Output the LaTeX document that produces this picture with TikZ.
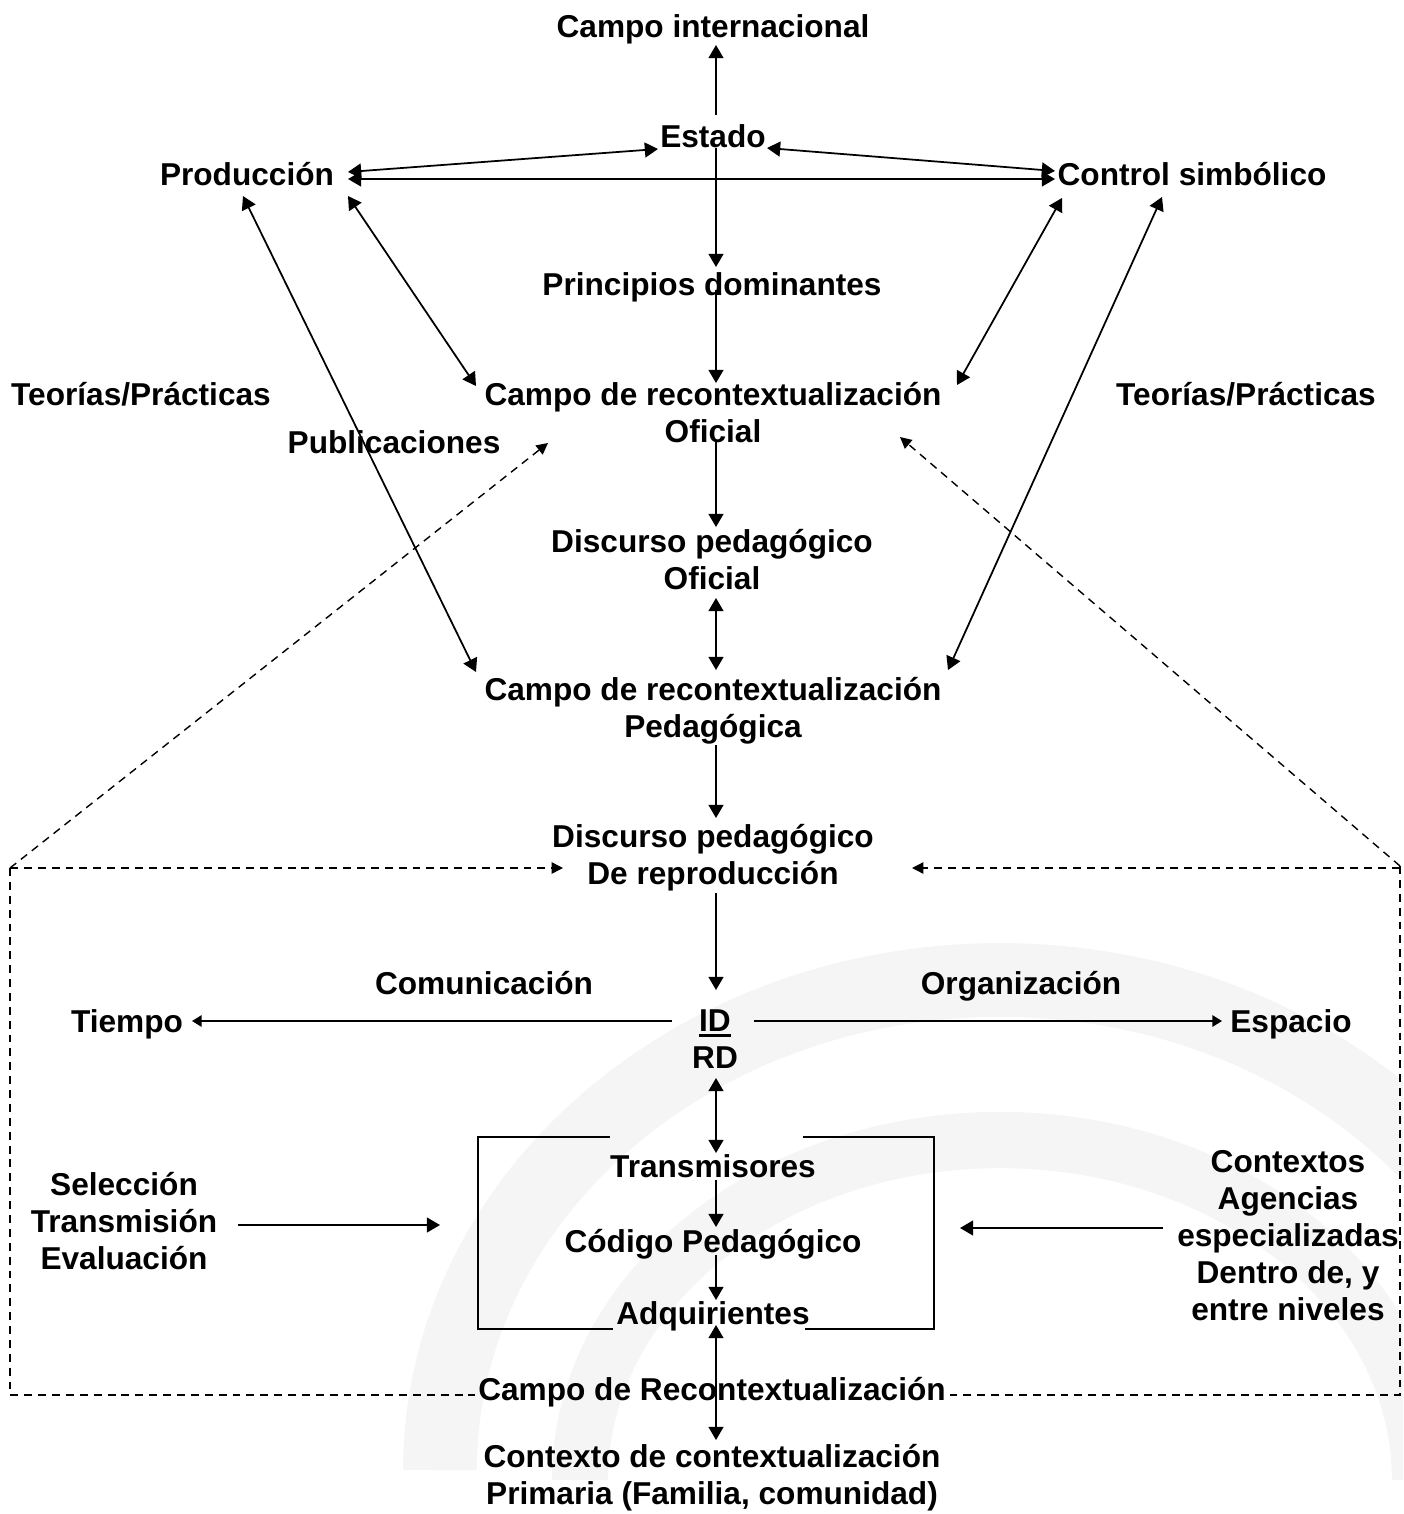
\documentclass[tikz,border=0pt]{standalone}
\usepackage{fontspec}
\setmainfont{Liberation Sans}
\usetikzlibrary{arrows.meta,calc}

\begin{document}
\begin{tikzpicture}[x=0.02cm,y=-0.02cm,
  lbl/.style={font=\bfseries\fontsize{18}{21}\selectfont, align=center, inner sep=0pt, anchor=base},
  arr/.style={line width=1pt, -{Triangle[length=7.5pt,width=8.5pt]}},
  darr/.style={line width=1pt, {Triangle[length=7.5pt,width=8.5pt]}-{Triangle[length=7.5pt,width=8.5pt]}},
  harr/.style={line width=1pt, -{Triangle[length=5.5pt,width=6.5pt]}},
  dsh/.style={line width=0.8pt, dash pattern=on 4.5pt off 3.4pt},
  dsharr/.style={dsh, -{Triangle[length=6.5pt,width=6.5pt]}},
  boxline/.style={line width=0.9pt},
  logo/.style={black!4, line width=42pt}]
\useasboundingbox (0,0) rectangle (1403,1514);

% faint logo in the background
\begin{scope}
  \clip (0,0) rectangle (1403,1514);
  \draw[logo] (1000,1470) ++(180:560 and 490) arc[start angle=180, end angle=360, x radius=560, y radius=490];
  \draw[logo, line width=32pt] (1000,1480) ++(180:420 and 340) arc[start angle=180, end angle=360, x radius=420, y radius=340];
\end{scope}

% labels (anchored on the baseline of their last line)
\node[lbl] (intl) at (713,38) {Campo internacional};
\node[lbl] (estado) at (713,148) {Estado};
\node[lbl] (prod) at (247,185) {Producción};
\node[lbl] (ctrl) at (1192,185) {Control simbólico};
\node[lbl] (prin) at (712,295) {Principios dominantes};
\node[lbl] (campoOf) at (713,442) {Campo de recontextualización\\Oficial};
\node[lbl] (teoL) at (141,405) {Teorías/Prácticas};
\node[lbl] (teoR) at (1246,405) {Teorías/Prácticas};
\node[lbl] (publ) at (394,453) {Publicaciones};
\node[lbl] (discOf) at (712,589) {Discurso pedagógico\\Oficial};
\node[lbl] (campoPed) at (713,737) {Campo de recontextualización\\Pedagógica};
\node[lbl] (discRep) at (713,884) {Discurso pedagógico\\De reproducción};
\node[lbl] (comu) at (484,994) {Comunicación};
\node[lbl] (org) at (1021,994) {Organización};
\node[lbl] (tiempo) at (127,1032) {Tiempo};
\node[lbl] (idrd) at (715,1068)
  {\setbox0\hbox{ID}\rlap{\rule[-3.5pt]{\wd0}{1.6pt}}ID\\RD};
\node[lbl] (espacio) at (1291,1032) {Espacio};
\node[lbl] (trans) at (713,1177) {Transmisores};
\node[lbl] (codigo) at (713,1252) {Código Pedagógico};
\node[lbl] (adq) at (713,1324) {Adquirientes};
\node[lbl] (campoRe) at (712,1400) {Campo de Recontextualización};
\node[lbl] (contexto) at (712,1504) {Contexto de contextualización\\Primaria (Familia, comunidad)};
\node[lbl] (sel) at (124,1269) {Selección\\Transmisión\\Evaluación};
\node[lbl] (ctx) at (1288,1320) {Contextos\\Agencias\\especializadas\\Dentro de, y\\entre niveles};

% frame corners and box corners
\coordinate (dNW) at (10,868);
\coordinate (dNE) at (1400,866);
\coordinate (dSW) at (10,1395);
\coordinate (dSE) at (1400,1395);
\coordinate (bNW) at (478,1137);
\coordinate (bSE) at (934,1329);

% upper field
\draw[arr] ($(estado.base)+(3,-33)$) -- ($(intl.base)+(3,7)$);
\draw[darr] ($(prod.base)+(101,-13)$) -- ($(estado.base)+(-55,1)$);
\draw[darr] ($(prod.base)+(101,-6)$) -- ($(ctrl.base)+(-137,-6)$);
\draw[darr] ($(estado.base)+(54,0)$) -- ($(ctrl.base)+(-137,-14)$);
\draw[arr] ($(estado.base)+(3,0)$) -- ($(prin.base)+(4,-28)$);
\draw[arr] ($(prin.base)+(4,-5)$) -- ($(campoOf.base)+(3,-59)$);
\draw[darr] ($(prod.base)+(101,11)$) -- ($(campoOf.base)+(-237,-56)$);
\draw[darr] ($(prod.base)+(-4,11)$) -- ($(campoPed.base)+(-237,-65)$);
\draw[darr] ($(ctrl.base)+(-130,13)$) -- ($(campoOf.base)+(244,-57)$);
\draw[darr] ($(ctrl.base)+(-30,12)$) -- ($(campoPed.base)+(235,-67)$);
\draw[arr] ($(campoOf.base)+(3,0)$) -- ($(discOf.base)+(4,-62)$);
\draw[darr] ($(discOf.base)+(4,9)$) -- ($(campoPed.base)+(3,-67)$);
\draw[arr] ($(campoPed.base)+(3,8)$) -- ($(discRep.base)+(3,-66)$);
\draw[arr] ($(discRep.base)+(3,9)$) -- ($(idrd.base)+(1,-78)$);

% lower field
\draw[harr] ($(idrd.base)+(-43,-47)$) -- ($(tiempo.base)+(65,-11)$);
\draw[harr] ($(idrd.base)+(39,-47)$) -- ($(espacio.base)+(-69,-11)$);
\draw[darr] ($(idrd.base)+(1,10)$) -- ($(trans.base)+(3,-24)$);
\draw[arr] ($(trans.base)+(3,3)$) -- ($(codigo.base)+(3,-25)$);
\draw[arr] ($(codigo.base)+(3,3)$) -- ($(adq.base)+(3,-24)$);
\draw[darr] ($(adq.base)+(3,1)$) -- ($(contexto.base)+(4,-64)$);
\draw[arr] ($(sel.base)+(114,-44)$) -- ($(bNW)+(-38,88)$);
\draw[arr] ($(ctx.base)+(-125,-92)$) -- ($(bSE)+(26,-101)$);

% open box round the pedagogic code
\draw[boxline] ($(bNW)+(132,0)$) -- (bNW) -- (bNW |- bSE) -- ($(bNW |- bSE)+(135,0)$);
\draw[boxline] ($(bSE |- bNW)+(-131,0)$) -- (bSE |- bNW) -- (bSE) -- ($(bSE)+(-129,0)$);

% dashed recontextualising frame
\draw[dsharr] (dNW) -- ($(campoOf.base)+(-165,1)$);
\draw[dsharr] (dNW) -- ($(discRep.base)+(-150,-16)$);
\draw[dsharr] (dNE) -- ($(campoOf.base)+(187,-5)$);
\draw[dsharr] (dNE |- dNW) -- ($(discRep.base)+(199,-16)$);
\draw[dsh] (dNW) -- (dSW) -- ($(campoRe.west |- dSW)+(-3,0)$);
\draw[dsh] (dNE) -- (dSE) -- ($(campoRe.east |- dSE)+(0,0)$);
\end{tikzpicture}
\end{document}
